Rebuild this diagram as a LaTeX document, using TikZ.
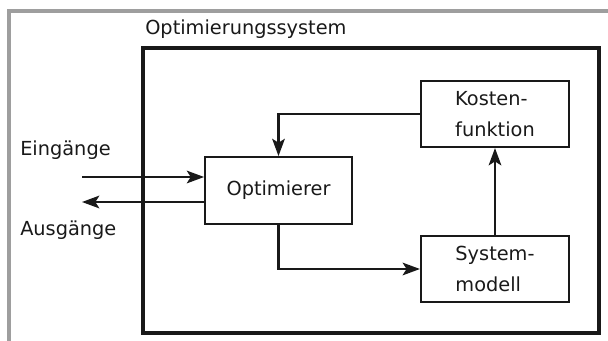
\documentclass[tikz,border=0pt]{standalone}
\usepackage{fontspec}
\setmainfont{DejaVu Sans}
\usepackage{tikz}
\usetikzlibrary{calc}
\usetikzlibrary{positioning}
\usetikzlibrary{arrows.meta}

\begin{document}
\begin{tikzpicture}[x=0.75pt,y=0.75pt,yscale=-1,xscale=1,
    txt/.style={inner sep=0pt,font={\fontsize{14.5}{23}\selectfont},text=black!90},
    block/.style={draw=black!90,line width=1.6pt,minimum width=111pt,minimum height=49.5pt,inner sep=0pt,align=left,font={\fontsize{14.5}{23}\selectfont},text=black!90},
    arr/.style={draw=black!90,line width=1.6pt,-{Stealth[length=13pt,width=9.5pt,inset=3pt]}}]
                  \useasboundingbox (0,0) rectangle (608,340);

                  %Frame (gray, cut by the page)
                  \draw [color=black!38,line width=2.4pt] (9,342) |- (610,11) ;
                  %Shape: Rectangle [Optimierungssystem]
                  \draw [draw=black!90,line width=2.3pt] (143,48) rectangle (599,333) ;

                  % Text Node
                  \node [txt,anchor=west] (titel) at (145,29) {Optimierungssystem};

                  % Blocks
                  \node [block] (kosten) at (495,114) {Kosten-\\funktion};
                  \node [block,minimum width=110pt,minimum height=50pt] (optim) at (278.5,190.5) {Optimierer};
                  \node [block] (modell) at (495,269) {System-\\modell};

                  % Ein- und Ausgang
                  \coordinate (ein) at (82,177);
                  \coordinate (aus) at (82,202);
                  \node [txt,anchor=west] (einl) at (20,150) {Eingänge};
                  \node [txt,anchor=west] (ausl) at (20,230) {Ausgänge};

                  % Arrows
                  \draw [arr] (ein) -- (optim.west |- ein) ;
                  \draw [arr] (optim.west |- aus) -- (aus) ;
                  \draw [arr] (kosten.west) -| (optim.north) ;
                  \draw [arr] (optim.south) |- (modell.west) ;
                  \draw [arr] (modell.north) -- (kosten.south) ;

              \end{tikzpicture}
\end{document}
